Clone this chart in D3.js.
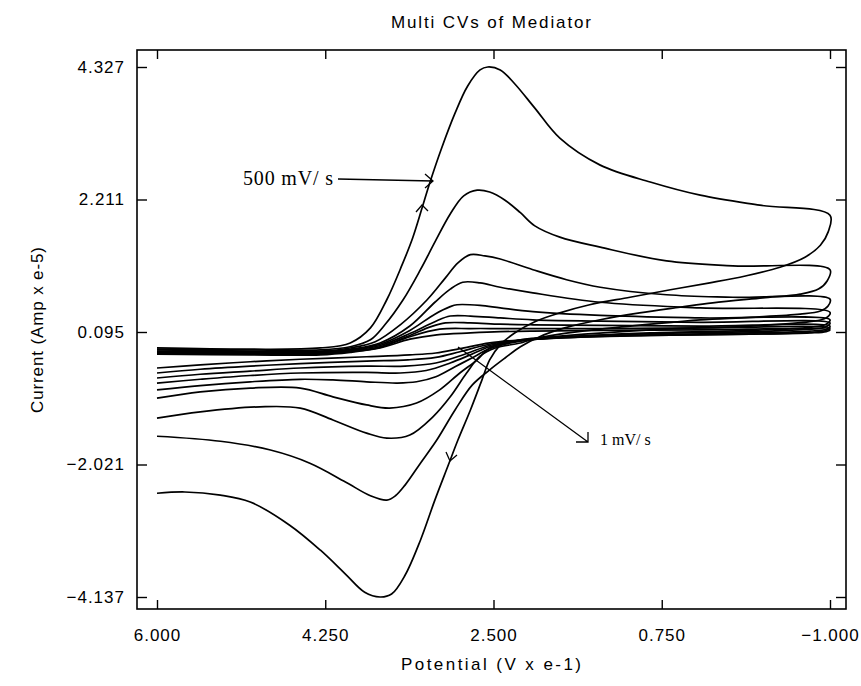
<!DOCTYPE html>
<html>
<head>
<meta charset="utf-8">
<script src="https://cdn.jsdelivr.net/npm/d3@7"></script>
<style>
  html, body { margin: 0; padding: 0; background: #fff; }
  svg { display: block; }
  .axis text { font-family: "Liberation Sans", Arial, sans-serif; font-size: 17px; letter-spacing: 1px; fill: #000; }
  .axis line { stroke: #000; stroke-width: 1.4; }
  .lbl { font-family: "Liberation Sans", Arial, sans-serif; font-size: 17px; fill: #000; }
  .note { font-family: "Liberation Serif", "Times New Roman", serif; fill: #000; }
</style>
</head>
<body>
<svg id="chart" width="861" height="686"></svg>
<script>

// tick values
var potentialTicks = [6.000, 4.250, 2.500, 0.750, -1.000];
var currentTicks = [4.327, 2.211, 0.095, -2.021, -4.137];

// scan rates, mV/s (largest curve first)
var scanRates = [500, 200, 100, 50, 20, 10, 5, 2, 1];

// forward sweeps: [potential (V x e-1), current (Amp x e-5)], 6.0 -> -1.0
var forwardScans = [
  [[6.00,-0.16],[5.03,-0.18],[4.30,-0.16],[3.99,-0.08],[3.78,0.16],[3.61,0.61],[3.45,1.17],[3.34,1.60],[3.24,2.09],[3.16,2.49],[3.04,3.03],[2.90,3.59],[2.77,4.02],[2.64,4.28],[2.56,4.327],[2.43,4.28],[2.28,4.06],[2.07,3.67],[1.81,3.19],[1.39,2.76],[0.87,2.49],[0.35,2.28],[-0.27,2.12],[-1.00,1.96]],
  [[6.00,-0.18],[5.03,-0.19],[4.30,-0.19],[3.99,-0.14],[3.78,-0.03],[3.63,0.21],[3.44,0.61],[3.26,1.09],[3.11,1.53],[2.95,1.98],[2.81,2.27],[2.67,2.36],[2.54,2.33],[2.38,2.20],[2.22,2.00],[2.07,1.79],[1.81,1.61],[1.39,1.45],[0.70,1.23],[0.01,1.15],[-1.00,1.09]],
  [[6.00,-0.19],[5.03,-0.21],[4.30,-0.21],[3.99,-0.16],[3.73,-0.06],[3.47,0.21],[3.19,0.61],[3.00,0.96],[2.87,1.20],[2.74,1.33],[2.59,1.31],[2.43,1.26],[2.09,1.09],[1.74,0.93],[1.39,0.81],[0.70,0.69],[0.01,0.65],[-1.00,0.62]],
  [[6.00,-0.21],[5.03,-0.22],[4.30,-0.22],[3.99,-0.18],[3.68,-0.08],[3.37,0.19],[3.11,0.57],[2.95,0.78],[2.82,0.89],[2.64,0.88],[2.43,0.81],[2.09,0.72],[1.39,0.57],[0.35,0.48],[-1.00,0.41]],
  [[6.00,-0.22],[5.03,-0.23],[4.30,-0.23],[3.99,-0.19],[3.68,-0.10],[3.37,0.12],[3.11,0.38],[2.95,0.50],[2.88,0.53],[2.64,0.52],[2.43,0.48],[2.09,0.42],[1.39,0.36],[0.35,0.32],[-1.00,0.29]],
  [[6.00,-0.23],[5.03,-0.24],[4.30,-0.24],[3.99,-0.20],[3.68,-0.12],[3.37,0.07],[3.11,0.26],[2.95,0.35],[2.74,0.35],[2.43,0.32],[2.09,0.29],[1.39,0.27],[0.35,0.25],[-1.00,0.24]],
  [[6.00,-0.24],[5.03,-0.25],[4.30,-0.25],[3.99,-0.21],[3.68,-0.14],[3.37,0.04],[3.15,0.18],[3.00,0.24],[2.74,0.24],[2.43,0.22],[2.09,0.21],[1.39,0.20],[0.35,0.19],[-1.00,0.19]],
  [[6.00,-0.25],[5.03,-0.26],[4.30,-0.26],[3.99,-0.22],[3.68,-0.15],[3.37,0.02],[3.06,0.14],[2.74,0.15],[2.43,0.15],[2.09,0.15],[1.39,0.15],[0.35,0.16],[-1.00,0.16]],
  [[6.00,-0.26],[5.03,-0.27],[4.30,-0.27],[3.99,-0.23],[3.68,-0.16],[3.37,-0.02],[3.09,0.05],[2.74,0.08],[2.43,0.10],[2.09,0.11],[1.39,0.12],[0.35,0.13],[-1.00,0.13]]
];

// reverse sweeps: -1.0 -> 6.0
var reverseScans = [
  [[-1.00,1.96],[-0.98,1.69],[-0.90,1.48],[-0.74,1.29],[-0.48,1.13],[-0.12,0.99],[0.25,0.88],[0.66,0.77],[1.08,0.65],[1.50,0.53],[1.81,0.40],[2.07,0.26],[2.28,0.08],[2.43,-0.11],[2.54,-0.35],[2.62,-0.67],[2.74,-1.15],[2.87,-1.63],[2.97,-2.03],[3.11,-2.59],[3.26,-3.23],[3.42,-3.79],[3.56,-4.09],[3.68,-4.137],[3.84,-4.06],[4.04,-3.77],[4.30,-3.39],[4.62,-2.99],[5.03,-2.62],[5.34,-2.51],[5.71,-2.46],[6.00,-2.48]],
  [[-1.00,1.09],[-0.97,0.91],[-0.88,0.78],[-0.69,0.70],[-0.30,0.64],[0.22,0.56],[0.56,0.49],[0.98,0.40],[1.39,0.29],[1.76,0.16],[2.02,0.02],[2.22,-0.14],[2.38,-0.32],[2.54,-0.51],[2.72,-0.75],[2.90,-1.15],[3.09,-1.63],[3.26,-2.00],[3.42,-2.35],[3.52,-2.52],[3.61,-2.59],[3.78,-2.52],[4.04,-2.30],[4.41,-2.00],[4.82,-1.79],[5.34,-1.65],[6.00,-1.57]],
  [[-1.00,0.62],[-0.98,0.51],[-0.90,0.43],[-0.69,0.38],[-0.17,0.33],[0.35,0.29],[0.87,0.22],[1.39,0.14],[1.81,0.06],[2.12,-0.03],[2.22,-0.08],[2.48,-0.16],[2.64,-0.29],[2.78,-0.56],[2.95,-0.94],[3.13,-1.26],[3.37,-1.55],[3.61,-1.60],[3.82,-1.52],[4.17,-1.31],[4.51,-1.12],[4.93,-1.10],[5.55,-1.18],[6.00,-1.28]],
  [[-1.00,0.41],[-0.96,0.32],[-0.79,0.26],[-0.17,0.19],[0.87,0.13],[1.81,0.03],[2.22,-0.03],[2.54,-0.16],[2.67,-0.35],[2.85,-0.56],[3.06,-0.83],[3.30,-1.04],[3.58,-1.12],[3.82,-1.07],[4.17,-0.94],[4.51,-0.80],[5.03,-0.80],[5.55,-0.86],[6.00,-0.96]],
  [[-1.00,0.29],[-0.96,0.22],[-0.79,0.17],[-0.17,0.12],[0.87,0.08],[1.81,0.01],[2.22,-0.05],[2.54,-0.17],[2.70,-0.30],[2.90,-0.46],[3.10,-0.62],[3.30,-0.70],[3.50,-0.72],[3.82,-0.70],[4.17,-0.67],[4.51,-0.66],[5.03,-0.70],[5.55,-0.76],[6.00,-0.83]],
  [[-1.00,0.24],[-0.96,0.18],[-0.79,0.14],[-0.17,0.10],[0.87,0.07],[1.81,0.01],[2.22,-0.04],[2.54,-0.14],[2.74,-0.27],[2.95,-0.40],[3.20,-0.52],[3.47,-0.56],[3.82,-0.55],[4.51,-0.56],[5.03,-0.60],[5.55,-0.66],[6.00,-0.72]],
  [[-1.00,0.19],[-0.96,0.14],[-0.79,0.11],[-0.17,0.08],[0.87,0.05],[1.81,0.00],[2.22,-0.04],[2.54,-0.12],[2.80,-0.26],[3.10,-0.40],[3.42,-0.45],[3.82,-0.45],[4.51,-0.48],[5.03,-0.53],[5.55,-0.58],[6.00,-0.64]],
  [[-1.00,0.16],[-0.96,0.12],[-0.79,0.09],[-0.17,0.06],[0.87,0.04],[1.81,0.00],[2.22,-0.04],[2.54,-0.10],[2.85,-0.22],[3.10,-0.31],[3.39,-0.35],[3.82,-0.37],[4.51,-0.41],[5.03,-0.45],[5.55,-0.50],[6.00,-0.56]],
  [[-1.00,0.13],[-0.96,0.10],[-0.79,0.08],[-0.17,0.06],[0.87,0.04],[1.81,0.01],[2.22,-0.03],[2.54,-0.08],[2.85,-0.17],[3.10,-0.24],[3.37,-0.27],[3.82,-0.30],[4.51,-0.34],[5.03,-0.38],[5.55,-0.43],[6.00,-0.48]]
];

var svg = d3.select('#chart');

// plot frame
var box = {left: 137, right: 846, top: 50, bottom: 609};

var x = d3.scaleLinear().domain([6, -1]).range([157, 830]);
var y = d3.scaleLinear().domain([-4.137, 4.327]).range([597, 67]);

// axes, ticks pointing inward
var fmt = d3.format('.3f');

svg.append('g').attr('class', 'axis')
  .attr('transform', 'translate(0,' + box.bottom + ')')
  .call(d3.axisBottom(x).tickValues(potentialTicks).tickFormat(fmt).tickSizeInner(-9).tickSizeOuter(0).tickPadding(20))
  .call(g => g.select('.domain').remove());

svg.append('g').attr('class', 'axis')
  .attr('transform', 'translate(0,' + box.top + ')')
  .call(d3.axisTop(x).tickValues(potentialTicks).tickFormat('').tickSizeInner(-9).tickSizeOuter(0))
  .call(g => g.select('.domain').remove());

svg.append('g').attr('class', 'axis')
  .attr('transform', 'translate(' + box.left + ',0)')
  .call(d3.axisLeft(y).tickValues(currentTicks).tickFormat(fmt).tickSizeInner(-10).tickSizeOuter(0).tickPadding(12))
  .call(g => g.select('.domain').remove());

svg.append('g').attr('class', 'axis')
  .attr('transform', 'translate(' + box.right + ',0)')
  .call(d3.axisRight(y).tickValues(currentTicks).tickFormat('').tickSizeInner(-10).tickSizeOuter(0))
  .call(g => g.select('.domain').remove());

svg.append('rect')
  .attr('x', box.left).attr('y', box.top)
  .attr('width', box.right - box.left).attr('height', box.bottom - box.top)
  .attr('fill', 'none').attr('stroke', '#000').attr('stroke-width', 1.6);

// the CV curves
var line = d3.line()
  .x(d => x(d[0]))
  .y(d => y(d[1]))
  .curve(d3.curveCatmullRom.alpha(0.5));

var curves = scanRates.map(function(rate, i){
  return {rate: rate, pts: forwardScans[i].concat(reverseScans[i].slice(1))};
});

svg.append('g').selectAll('path')
  .data(curves)
  .join('path')
  .attr('d', d => line(d.pts))
  .attr('fill', 'none')
  .attr('stroke', '#000')
  .attr('stroke-width', 1.7);

// titles
svg.append('text').attr('class', 'lbl')
  .attr('x', 491).attr('y', 28).attr('text-anchor', 'middle')
  .attr('textLength', 200).attr('lengthAdjust', 'spacing')
  .text('Multi CVs of Mediator');

svg.append('text').attr('class', 'lbl')
  .attr('x', 491).attr('y', 670).attr('text-anchor', 'middle')
  .attr('textLength', 180).attr('lengthAdjust', 'spacing')
  .text('Potential (V x e-1)');

svg.append('text').attr('class', 'lbl')
  .attr('transform', 'translate(43,330) rotate(-90)')
  .attr('text-anchor', 'middle')
  .attr('textLength', 166).attr('lengthAdjust', 'spacing')
  .text('Current (Amp x e-5)');

// annotations
var notes = svg.append('g').attr('stroke', '#000').attr('stroke-width', 1.3).attr('fill', 'none');

svg.append('text').attr('class', 'note')
  .attr('x', 243).attr('y', 185).attr('font-size', 20)
  .attr('textLength', 90).attr('lengthAdjust', 'spacing')
  .text('500 mV/ s');
notes.append('path').attr('d', 'M338,179 L433,181 M425,174 L433,181 L425,188');
notes.append('path').attr('d', 'M416,212 L422,205 L428,211');
notes.append('path').attr('d', 'M446,452 L450,461 L457,455');

svg.append('text').attr('class', 'note')
  .attr('x', 600).attr('y', 445).attr('font-size', 16)
  .text('1 mV/ s');
notes.append('path').attr('d', 'M458,347 L588,442 M576,442 L588,442 L588,432');

</script>
</body>
</html>
